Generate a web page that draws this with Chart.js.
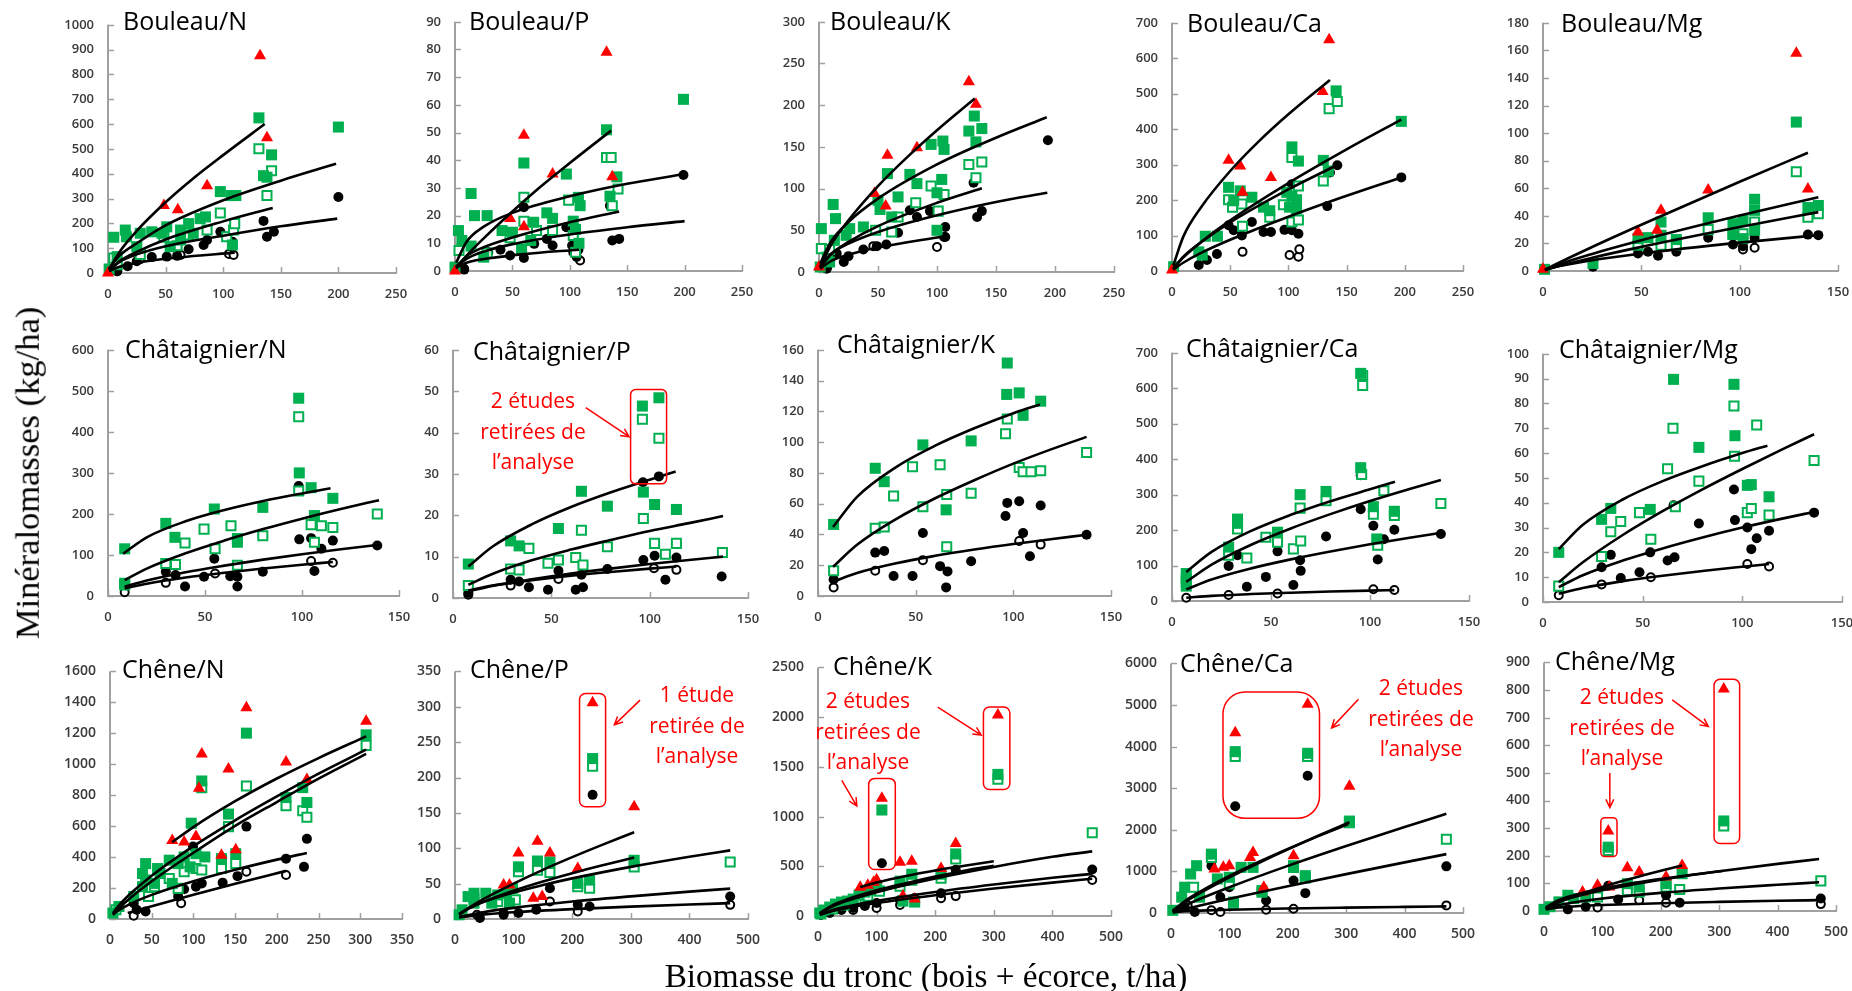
<!DOCTYPE html>
<html><head><meta charset="utf-8">
<script src="https://cdn.jsdelivr.net/npm/chart.js@4.4.0/dist/chart.umd.min.js"></script>
<style>
html,body{margin:0;padding:0;background:#fff;}
#root{position:relative;width:1852px;height:991px;overflow:hidden;background:#fff;}
canvas{position:absolute;}
.title{position:absolute;font-family:'Open Sans',sans-serif;font-size:25px;line-height:25px;color:#000;white-space:nowrap;}
.note{position:absolute;font-family:'Open Sans',sans-serif;font-size:21px;line-height:30.5px;color:#ff0000;text-align:center;white-space:nowrap;transform:translateX(-50%);}
.axt{position:absolute;font-family:'Liberation Serif',serif;white-space:nowrap;color:#000;}
</style></head><body><div id="root"></div>
<script>
// ---------- Bouleau ----------
const bN_red=[[0,0],[48.5,272],[60.6,255],[86,352],[132,875],[138,545]];
const bN_gf=[[1,16],[5,144],[8,66],[15,173],[16,146],[25,106],[28,160],[38,166],[47,160],[51,186],[54,106],[63,173],[63,133],[70,199],[74,160],[80,219],[84.6,226],[97.5,328],[107,312],[108,113],[111,312],[131,625],[135,392],[138,386],[142,476],[200,588]];
const bN_gh=[[5,60],[8,33],[28,75],[48.5,144],[60,110],[70,153],[86,173],[97.5,242],[103,146],[109,173],[110,199],[131,501],[138,312],[142,412]];
const bN_bf=[[8,7],[17,27],[25,47],[38,64],[51,66],[60,69],[70,96],[83,113],[86,133],[97.5,166],[103,146],[108,126],[135,210],[138,146],[144,166],[200,306]];
const bN_bh=[[8,7],[28,56],[63,73],[105,77],[109,73]];
const bN_t1=[[1,15],[10,85],[25,170],[50,285],[75,385],[100,475],[136,600]];
const bN_t2=[[1,18],[10,70],[25,120],[50,192],[100,293],[150,372],[198,440]];
const bN_t3=[[1,10],[10,47],[25,85],[50,135],[100,208],[143,262]];
const bN_t4=[[1,12],[10,45],[25,75],[50,108],[100,150],[150,188],[199,219]];
const bN_t5=[[1,8],[10,25],[30,45],[60,62],[110,82]];

const bP_red=[[0,0],[48,19],[60,16],[60,49],[85,35],[132,79],[137,34]];
const bP_gf=[[0,1.4],[3,14.6],[6,11],[14,28],[14,9],[17,20],[25,5],[28,20],[41,14.6],[50,14],[58,8],[60,39],[66,11],[68.5,17.6],[80,21],[85,19],[97,35],[103,18],[105,15],[107.5,26.6],[108,10],[109,23.6],[132,51],[135,27],[141,34],[199,62]];
const bP_gh=[[3.5,7.4],[28,6.5],[48,12],[60,26.6],[60,18],[71,14.6],[85,14.6],[99,25.6],[103,12.8],[105,6.8],[132,41],[136,41],[137,23.6],[142,29.6]];
const bP_bf=[[8,0.5],[28,6.8],[39.6,7.7],[48,5.6],[60,4.7],[60,23],[69,9.8],[80,11.6],[85,9.2],[97,15.8],[102,9.2],[106,5.1],[107.5,7.7],[135,23.6],[137,11],[143,11.6],[199,34.7]];
const bP_bh=[[8,0.8],[29,6.8],[60,17.6],[103,6.8],[109,3.8]];
const bP_t1=[[1,0.9],[10,5.5],[25,11.8],[50,21.5],[75,30.6],[100,39],[136,50.7]];
const bP_t2=[[1,3],[10,10.5],[25,16],[50,21],[100,27],[150,31.5],[200,35]];
const bP_t3=[[1,1.4],[10,5.3],[25,8.6],[50,12.1],[100,17.6],[143,21.5]];
const bP_t4=[[1,1.6],[10,4.4],[25,7],[50,9.7],[100,13.2],[150,15.8],[200,18]];
const bP_t5=[[1,1.2],[10,3],[30,4.6],[60,6.1],[108,7.7]];

const bK_red=[[0,6],[47,94],[56.5,79],[58,140],[83,149],[127,228],[133,201]];
const bK_gf=[[1,6],[2,52],[9,12],[12,81],[13,38],[14,64],[23,44],[26,52],[37.6,54],[50,86],[51.7,75],[58,118],[61.6,66],[67,90],[77,117],[83,106],[95,153],[100,95],[100,50],[104,111],[105,157],[106,147],[127,169],[131.6,187],[133,156],[138,172]];
const bK_gh=[[2,28],[7,18],[9,27],[48,50],[61.6,48],[67,66],[82,83],[95,103],[101,73],[106,93],[127,129],[133,113],[138,132]];
const bK_bf=[[6.5,4],[15,22],[21,12],[25,19],[37.6,27],[49,31],[57,33],[67,47],[77,74],[83,66],[94,73],[107,54],[107,42],[131,107],[134,66],[138,73],[194,158]];
const bK_bh=[[7,6],[46,31],[100,30],[106,42]];
const bK_t1=[[1,6],[10,32],[25,62],[50,103],[75,138],[100,170],[132,208]];
const bK_t2=[[1,10],[10,36],[25,60],[50,88],[100,129],[150,161],[193,185.5]];
const bK_t3=[[1,5.2],[10,21],[25,36],[50,55],[100,83],[138,100.5]];
const bK_t4=[[1,6.8],[10,21.6],[25,34],[50,48],[100,68],[150,84],[193.5,95]];
const bK_t5=[[1,4],[10,13],[25,20.7],[50,29.3],[105,42.5]];

const bCa_red=[[0,3],[48.6,312],[58.6,296],[60.6,222],[85,264],[129.4,506],[135,652]];
const bCa_gf=[[1.4,12],[23,54],[26,45],[28.6,98],[39,98],[48.6,236],[53,198],[58.6,226],[68.6,208],[78.6,180],[84,170],[98.6,222],[101,180],[103,350],[103,211],[107,201],[107,175],[108.6,310],[130,312],[134.3,282],[141,508],[197,422]];
const bCa_gh=[[48.6,201],[52,180],[60,189],[60.6,126],[84,152],[95.7,187],[103,320],[103,138],[108.6,240],[108.6,144],[130,254],[135,458],[142,478]];
const bCa_bf=[[23,17],[30,31],[38.6,48],[48.6,129],[53,115],[60,100],[68.6,138],[78.6,110],[85,110],[96.6,116],[103,115],[103,245],[108.6,105],[133.4,183],[135.7,278],[142,298],[197,264]];
const bCa_bh=[[60.6,54],[101,45],[108.6,40],[109.4,61]];
const bCa_t1=[[1,15],[10,99],[25,180],[50,282],[75,367],[100,442],[135.7,539]];
const bCa_t2=[[1,6],[10,39],[25,82],[50,143],[100,248],[150,343],[197,427]];
const bCa_t3=[[1,7],[10,41],[25,81],[50,137],[100,230],[142,299]];
const bCa_t4=[[1,4],[10,24],[25,51],[50,88],[100,153],[150,212],[197,264]];

const bMg_red=[[0,1.2],[48.3,28.3],[58,29.5],[60,44],[84,58.7],[128.8,158],[134.7,59.4]];
const bMg_gf=[[0.8,1.2],[25.4,5.5],[48.3,23.5],[53.4,24.2],[60,25.9],[60,35.5],[67.8,22.8],[84,38.6],[96.6,34.3],[96.6,27],[101.7,36.7],[101.7,23.5],[107.6,52],[107.6,44],[107.6,29.5],[128.8,108],[134.7,46],[140,47.5]];
const bMg_gh=[[48.3,18.7],[60,18.7],[67.8,18.7],[84,30],[96.6,26.4],[101.7,27],[107.6,35.5],[128.8,72],[134.7,39],[140,41.5]];
const bMg_bf=[[25.4,3.1],[48.3,12.7],[53.4,13.9],[58.5,11],[67.8,13.9],[84,24.2],[96.6,19.2],[101.7,18],[107.6,24],[134.7,26.4],[140,26]];
const bMg_bh=[[101.7,15.6],[107.6,16.8]];
const bMg_t1=[[1,0.8],[5,3.8],[25,17.4],[50,33.5],[100,64.7],[134.7,85.8]];
const bMg_t2=[[1,0.8],[5,3.2],[25,12.4],[50,22.3],[100,40.2],[140,53.5]];
const bMg_t3=[[1,0.6],[5,2.4],[25,9.6],[50,17.5],[100,31.9],[140,42.7]];
const bMg_t4=[[1,0.8],[5,2.5],[25,7.8],[50,12.7],[100,20.6],[140,26]];

// ---------- Châtaignier ----------
const cN_gf=[[8.6,115],[8.6,31],[29.8,177],[34.5,143],[54.8,212],[66.7,131],[66.7,140],[79.8,216],[98.3,482],[98.6,300],[104.7,264],[106.4,196],[115.9,238]];
const cN_gh=[[8.6,27],[29.8,79],[34.8,77],[39.7,129],[49.5,163],[55.2,115],[63.4,171],[66.7,75],[79.8,147],[98.3,437],[98.3,256],[104.7,174],[106.4,131],[110,171],[115.9,167],[138.8,200]];
const cN_bf=[[8.6,29],[29.8,59],[34.8,51],[39.7,23],[49.5,47],[54.8,91],[63,48],[66.7,47],[66.7,23],[79.8,59],[98.3,268],[98.6,138],[104.7,141],[106.4,61],[110,115],[115.9,135],[138.8,123]];
const cN_bh=[[8.6,9],[29.8,32],[55.2,55],[104.7,85],[115.9,81]];
const cN_t1=[[7.8,103],[20,143],[40,182],[60,209.5],[80,231.5],[100,250],[114.7,262.5]];
const cN_t2=[[8.6,38.7],[20,66.7],[40,104],[60,135],[80,163],[100,188.5],[120,212],[139.7,233.5]];
const cN_t3=[[8.6,22.5],[20,37.8],[40,57.8],[60,74],[80,88.6],[100,101.7],[120,113.8],[139.7,125]];
const cN_t4=[[8.6,18.5],[20,30],[40,45],[60,56.8],[80,67],[100,76],[115.9,83]];

const cP_gf=[[7.8,8.2],[29.3,13.8],[33.6,12.6],[53.6,16.8],[65.3,25.8],[78.5,22.2],[96.3,46.4],[96.8,25.6],[102.5,22.6],[104.7,48.4],[113.6,21.4]];
const cP_gh=[[7.8,3],[29.3,7],[33.6,6.8],[38.6,12],[48.3,8.4],[53.6,9.2],[62.4,9.8],[65.3,16.4],[66.1,8],[78.5,12.4],[96.3,43.2],[96.8,19.2],[102.5,13.2],[104.7,38.6],[108,10.6],[113.6,13.2],[137,11]];
const cP_bf=[[7.8,1.2],[29.3,4.4],[33.6,4],[38.6,2.6],[48.3,2],[53.6,6.6],[62.4,2],[65.3,5.6],[66.1,2.6],[78.5,7],[96.6,28],[96.8,9.2],[102.5,10.2],[104.7,29.4],[108,4.4],[113.6,9.8],[136.6,5.2]];
const cP_bh=[[7.8,0.8],[29.3,3],[53.6,4.6],[102.2,7.2],[113.6,6.8]];
const cP_t1=[[7.8,7.6],[20,12.4],[40,17.8],[60,22],[80,25.5],[100,28.6],[113.2,30.6]];
const cP_t2=[[7.8,3.2],[20,5.8],[40,9.1],[60,11.7],[80,14],[100,16.2],[120,18.1],[137.3,19.8]];
const cP_t3=[[7.8,1.6],[20,2.9],[40,4.5],[60,5.9],[80,7.1],[100,8.2],[120,9.2],[137.3,10]];
const cP_t4=[[7.8,1.8],[20,3],[40,4.3],[60,5.4],[80,6.3],[100,7.1],[113.6,7.6]];

const cK_gf=[[8,46.5],[29.3,83],[33.9,74.3],[53.7,98.2],[65.6,56],[78.4,100.8],[96.6,131],[96.9,151.4],[103,132],[105,117.4],[114,126.6]];
const cK_gh=[[8,16.4],[29.3,44],[33.9,44.8],[38.7,65],[48.4,84],[53.7,58],[62.5,85.3],[65.9,66],[65.9,32],[78.4,66.8],[96,105.5],[96.9,115],[103,83.5],[105,80.7],[109,80.7],[114,81.4],[137.5,93.2]];
const cK_bf=[[8,10.8],[29.3,28.2],[33.9,29.3],[38.7,13],[48.4,13],[53.7,41],[62.5,19.4],[66.3,16],[65.6,5.6],[78.4,22.6],[96,52],[96.9,60.5],[103,61.6],[105,41],[108.5,25.8],[114,58.8],[137.5,39.8]];
const cK_bh=[[8,5.6],[29.3,16.4],[53.7,23.3],[103,35.7],[114,33.4]];
const cK_t1=[[7.7,44.8],[20,64.4],[40,83.8],[60,97.7],[80,109],[100,118.8],[113.6,124.5]];
const cK_t2=[[7.7,19],[20,33.3],[40,50],[60,63.5],[80,75.2],[100,86],[120,95.6],[137.5,103.4]];
const cK_t3=[[7.7,9.3],[20,15],[40,21.3],[60,26.1],[80,30.2],[100,33.8],[120,37],[137.5,39.8]];

const cCa_gf=[[7.2,77.5],[7.2,54],[7.2,42],[28.6,152],[33.1,231],[33.1,219],[53.3,194],[64.7,300],[77.8,309],[95.3,642],[95.3,376],[101.7,266],[103.4,175],[112.3,253]];
const cCa_gh=[[7.2,63],[28.6,129],[33.1,203],[37.8,121],[47.4,180],[53.3,166],[61.3,147],[65,169],[64.7,262],[77.8,283],[96.3,608],[96.3,636],[95.8,357],[101.7,245],[103.9,157],[107,311],[112.3,241],[135.8,275]];
const cCa_bf=[[7.2,45],[28.6,99],[33.1,129],[37.8,40],[47.4,68],[53.3,140],[61.3,45],[64.7,115],[65,85],[77.8,182],[95.3,355],[95.3,259],[101.7,212],[103.9,117],[107,174],[112.3,201],[135.8,189]];
const cCa_bh=[[7.2,9],[28.6,17],[53.3,21],[101.7,33],[112.3,31]];
const cCa_t1=[[7.2,82],[20,138.5],[40,197.8],[60,243],[80,281.6],[100,315],[112.6,336]];
const cCa_t2=[[7.2,54],[20,102.6],[40,158.8],[60,204.7],[80,245],[100,282],[120,316],[135.8,341.6]];
const cCa_t3=[[7.2,32.7],[20,60.6],[40,92],[60,117.4],[80,139.6],[100,160],[120,178.5],[135.8,192.3]];
const cCa_t4=[[7.2,9.3],[20,14.5],[40,19.6],[60,23.4],[80,26.6],[100,29.4],[112.3,30.8]];

const cMg_gf=[[7.9,20],[29.4,33.3],[34,37.7],[53.8,37.3],[65.5,89.7],[78.2,62.3],[95.8,87.7],[96.3,67],[102.5,47],[104.5,47.3],[113.4,42.4]];
const cMg_gh=[[7.9,6.4],[29.4,18.3],[34,28.3],[39,32.4],[48.4,36],[54.1,25.3],[62.5,53.7],[65.2,70],[66.4,38.4],[78.2,48.7],[95.8,79],[96.1,58.7],[102.5,36],[104.5,37.7],[107.2,71.3],[113.4,35],[136,57]];
const cMg_bf=[[7.9,6.4],[29.4,14],[34,19],[39,9.7],[48.4,12],[53.8,20],[62.5,16.7],[66,18],[65.5,39],[78.2,31.6],[95.8,45.3],[96.3,33],[102.5,30],[104.5,21.3],[107.2,25.7],[113.4,28.7],[136,36]];
const cMg_bh=[[7.9,2.7],[29.4,7.1],[54.1,10],[102.5,15.3],[113.4,14.3]];
const cMg_t1=[[7.9,21.3],[20,31.1],[40,41.3],[60,48.7],[80,54.7],[100,60],[112.6,63]];
const cMg_t2=[[7.9,8],[20,16],[40,27],[60,36.6],[80,45.4],[100,53.6],[120,61.5],[136,67.6]];
const cMg_t3=[[7.9,6],[20,10.8],[40,16.7],[60,21.6],[80,26],[100,30],[120,33.6],[136,36.3]];
const cMg_t4=[[7.9,3.3],[20,5.6],[40,8.4],[60,10.6],[80,12.5],[100,14.2],[113.4,15.3]];

// ---------- Chêne ----------
const qN_red=[[74.6,508],[88.9,497],[103,533],[106.6,845],[110,1067],[133.6,412],[142,970],[150.7,448],[163.5,1365],[211,1015],[236,902],[307,1278]];
const qN_gf=[[3.5,38],[10.7,81],[28.4,145],[39,209],[39,294],[42.7,358],[42.7,252],[53.3,230],[57,326],[60,294],[71,380],[74.6,230],[81.7,358],[88.9,401],[96,337],[97.4,619],[103,422],[110,892],[113.7,401],[133.6,390],[142,678],[150.7,422],[163.5,1201],[211,785],[231,849],[236,753],[307,1190]];
const qN_gh=[[7.1,60],[46.2,145],[53.3,209],[71,262],[81.7,198],[88.9,305],[103,326],[110,316],[110,849],[133.6,326],[142,597],[150.7,358],[163.5,860],[211,732],[231,700],[236,657],[307,1122]];
const qN_bf=[[28.4,102],[32,60],[42.7,49],[81.7,145],[88.9,192],[99.5,469],[103,209],[110,230],[135,235],[152.8,277],[163.5,597],[211,390],[232.5,337],[236,518]];
const qN_bh=[[28.4,21],[85.3,102],[163.5,305],[211,284]];
const qN_t1=[[74.6,497],[100,594],[150,761],[200,908],[250,1040],[307,1180]];
const qN_t2=[[3.5,38],[10,83.6],[25,166],[50,280],[100,471],[150,638],[200,792],[250,939],[307,1094]];
const qN_t3=[[3.5,28],[10,65.8],[25,139],[50,244],[100,428],[150,602],[200,756],[250,907],[307,1067]];
const qN_t4=[[3.5,28],[10,55],[25,99.7],[50,156],[100,244],[150,318],[200,383.6],[236,427]];
const qN_t5=[[21.3,38],[50,83],[100,156.6],[150,227.6],[211,311]];

const qP_red=[[83,48],[93,48],[108.3,93.3],[133.6,29.4],[140.7,110],[148.8,31.7],[162,93.3],[209.5,71.4],[234.8,305.6],[305.7,158.7]];
const qP_gf=[[7,6],[12.1,13],[22.3,31.7],[32.4,36.4],[32.4,22.4],[52.6,36.4],[62.8,22.4],[72.9,34],[88,36.4],[93,22.4],[98.2,43.4],[108.3,73.7],[140.7,82],[162,80.7],[209.5,50.4],[229.7,55],[234.8,226.8],[305.7,83]];
const qP_gh=[[32.4,29.4],[72.9,24.7],[103,27],[108.3,66.7],[140.7,69],[162,65.8],[209.5,45.7],[229.7,43.4],[234.8,216],[305.7,73.7],[469.6,80.7]];
const qP_bf=[[12.1,8.4],[42.5,1.4],[83,6],[108.3,8.4],[138.7,13],[162,43.4],[209.5,20],[229.7,17.7],[234.8,175.5],[469.6,31.7]];
const qP_bh=[[37.4,6],[83,8.4],[162,24.7],[209.5,10.7],[469.6,20]];
const qP_t1=[[7,6],[25,16.6],[50,28.8],[100,50],[150,69.5],[200,87.4],[250,104.4],[305.7,122.7]];
const qP_t2=[[7,6.3],[25,15.3],[50,24.7],[100,40],[150,53],[200,64.7],[250,75.5],[305.7,86.8]];
const qP_t3=[[7,7.3],[25,16],[50,24.6],[100,37.5],[150,48],[200,57.4],[300,73.7],[400,88],[469.6,97]];
const qP_t4=[[7,2.8],[50,10],[100,15.7],[200,24.7],[300,32],[400,38.7],[469.6,43]];
const qP_t5=[[7,2.2],[50,6.5],[100,9.6],[200,14],[300,17.5],[400,20.5],[469.6,22.4]];

const qK_red=[[72,290],[85,310],[95,340],[100,365],[109,1185],[140,540],[145,200],[160,550],[165,170],[210,478],[235,730],[307,2022]];
const qK_gf=[[3,30],[10,60],[20,90],[30,120],[40,140],[50,150],[60,170],[70,210],[80,240],[90,260],[100,300],[109,1066],[140,350],[145,150],[160,420],[165,140],[210,420],[235,624],[307,1424]];
const qK_gh=[[5,20],[25,70],[45,110],[65,150],[85,200],[105,250],[140,300],[160,360],[210,380],[235,574],[307,1375],[468,837]];
const qK_bf=[[5,10],[20,40],[40,60],[60,80],[80,100],[100,130],[109,530],[140,160],[165,180],[210,229],[235,464],[468,468]];
const qK_bh=[[20,30],[60,60],[100,80],[140,110],[210,179],[235,200],[468,362]];
const qK_t1=[[72,292],[100,337],[150,403],[200,458],[250,505],[300,550]];
const qK_t2=[[3,30],[25,110],[50,168],[100,258],[150,330],[200,396],[250,456],[300,505]];
const qK_t3=[[3,25],[25,98],[50,154],[100,240],[200,377],[300,493],[400,595],[468,650]];
const qK_t4=[[3,15],[25,61],[50,96],[100,153],[200,242],[300,317],[400,384],[468,424]];
const qK_t5=[[3,12],[25,51],[50,81.6],[100,131],[200,209],[300,276],[400,336],[468,374]];

const qCa_red=[[74.3,1057],[89.6,1097],[99.8,1137],[110,4332],[135.4,1335],[140.5,1455],[158.9,620],[209.8,1375],[234,5016],[305.5,3044]];
const qCa_gf=[[3,64],[18.3,381],[23.4,620],[33.6,938],[43.8,1137],[48.9,381],[69.2,1415],[79.4,819],[99.8,858],[107,262],[110,3879],[120,1097],[140.5,1097],[155.8,540],[209.8,1137],[230,898],[234,3839],[305.5,2210]];
const qCa_gh=[[38.7,620],[69.2,1335],[99.8,700],[107,222],[110,3760],[155.8,500],[209.8,1097],[230,843],[234,3760],[305.5,2170],[471.5,1773]];
const qCa_bf=[[23.4,143],[40.7,24],[69.2,1137],[84.5,382],[99.8,620],[107,262],[110,2568],[162.9,302],[209.8,779],[230,477],[234,3299],[471.5,1121]];
const qCa_bh=[[28.5,183],[69.2,64],[84.5,24],[162.9,80],[209.8,103],[471.5,183]];
const qCa_t1=[[3,46],[25,269],[50,481],[100,858],[150,1203],[200,1531],[250,1845],[305.5,2180]];
const qCa_t2=[[3,56],[25,299],[50,514],[100,890],[150,1225],[200,1540],[250,1836],[303.5,2140]];
const qCa_t3=[[3,30],[25,186],[50,341],[100,620],[200,1133],[300,1610],[400,2068],[471.5,2385]];
const qCa_t4=[[3,14],[25,95],[50,181],[100,342],[200,645],[300,935],[400,1217],[471.5,1415]];
const qCa_t5=[[3,16],[25,41],[50,56],[100,79],[200,108],[300,129],[400,147],[471.5,159]];

const qMg_red=[[66,69],[91.7,93],[110,290],[112,87],[142.7,157],[163,141],[209,123],[236.5,165],[307.8,804]];
const qMg_gf=[[0,6],[10.2,15.5],[25.5,33],[40.8,57],[51,45],[71.4,51],[110,231],[142.7,99],[163,87],[209,99],[236.5,135],[307.8,326]];
const qMg_gh=[[91.7,51],[110,219],[142.7,73],[163,69],[209,87],[232.4,78],[307.8,308],[474,109]];
const qMg_bf=[[40.8,6],[71.4,15.5],[110,91],[127,42],[163,69],[209,57],[232.4,30],[474,45]];
const qMg_bh=[[91.7,13],[163,39],[209,30],[474,25]];
const qMg_t1=[[3,6.4],[25,31],[50,51.6],[100,87],[150,117.5],[200,145.7],[236.5,165]];
const qMg_t2=[[3,13],[25,39.5],[50,56.5],[100,81],[150,100],[200,116],[250,130.6],[305.8,145]];
const qMg_t3=[[3,9.4],[25,33],[50,49.8],[100,75],[200,113],[300,143.8],[400,170.7],[471,188]];
const qMg_t4=[[3,6.8],[25,21.3],[50,31],[100,45],[200,65.5],[300,81.5],[400,95],[471,104]];
const qMg_t5=[[3,5.5],[25,12.6],[50,16.4],[100,21.5],[200,28.2],[300,33],[400,37],[471,39.4]];

// ---------- panel layout ----------
const panels=[
 {t:'Bouleau/N',L:108,R:396,T:23,B:273,xm:250,xs:50,ym:1000,ys:100,tx:123,ty:30,fs:13,red:bN_red,gf:bN_gf,gh:bN_gh,bf:bN_bf,bh:bN_bh,lines:[bN_t1,bN_t2,bN_t3,bN_t4,bN_t5]},
 {t:'Bouleau/P',L:455,R:742,T:20,B:271,xm:250,xs:50,ym:90,ys:10,tx:469,ty:30,fs:13,red:bP_red,gf:bP_gf,gh:bP_gh,bf:bP_bf,bh:bP_bh,lines:[bP_t1,bP_t2,bP_t3,bP_t4,bP_t5]},
 {t:'Bouleau/K',L:819,R:1114,T:20,B:272,xm:250,xs:50,ym:300,ys:50,tx:830,ty:30,fs:13,red:bK_red,gf:bK_gf,gh:bK_gh,bf:bK_bf,bh:bK_bh,lines:[bK_t1,bK_t2,bK_t3,bK_t4,bK_t5]},
 {t:'Bouleau/Ca',L:1172,R:1463,T:21,B:271,xm:250,xs:50,ym:700,ys:100,tx:1187,ty:32,fs:13,red:bCa_red,gf:bCa_gf,gh:bCa_gh,bf:bCa_bf,bh:bCa_bh,lines:[bCa_t1,bCa_t2,bCa_t3,bCa_t4]},
 {t:'Bouleau/Mg',L:1543,R:1838,T:21,B:271,xm:150,xs:50,ym:180,ys:20,tx:1561,ty:32,fs:13,red:bMg_red,gf:bMg_gf,gh:bMg_gh,bf:bMg_bf,bh:bMg_bh,lines:[bMg_t1,bMg_t2,bMg_t3,bMg_t4]},
 {t:'Châtaignier/N',L:108,R:399,T:348,B:596,xm:150,xs:50,ym:600,ys:100,tx:125,ty:358,fs:13,red:[],gf:cN_gf,gh:cN_gh,bf:cN_bf,bh:cN_bh,lines:[cN_t1,cN_t2,cN_t3,cN_t4]},
 {t:'Châtaignier/P',L:453,R:748,T:348,B:598,xm:150,xs:50,ym:60,ys:10,tx:473,ty:360,fs:13,red:[],gf:cP_gf,gh:cP_gh,bf:cP_bf,bh:cP_bh,lines:[cP_t1,cP_t2,cP_t3,cP_t4],
   rects:[[90.3,50.4,108.6,27.6,5]],arrows:[[67.5,46,89.5,39]],note:{x:533,y:385,txt:'2 études<br>retirées de<br>l’analyse'}},
 {t:'Châtaignier/K',L:818,R:1111,T:348,B:596,xm:150,xs:50,ym:160,ys:20,tx:837,ty:353,fs:13,red:[],gf:cK_gf,gh:cK_gh,bf:cK_bf,bh:cK_bh,lines:[cK_t1,cK_t2,cK_t3]},
 {t:'Châtaignier/Ca',L:1172,R:1469,T:351,B:601,xm:150,xs:50,ym:700,ys:100,tx:1186,ty:357,fs:13,red:[],gf:cCa_gf,gh:cCa_gh,bf:cCa_bf,bh:cCa_bh,lines:[cCa_t1,cCa_t2,cCa_t3,cCa_t4]},
 {t:'Châtaignier/Mg',L:1543,R:1842,T:352,B:602,xm:150,xs:50,ym:100,ys:10,tx:1559,ty:358,fs:13,red:[],gf:cMg_gf,gh:cMg_gh,bf:cMg_bf,bh:cMg_bh,lines:[cMg_t1,cMg_t2,cMg_t3,cMg_t4]},
 {t:'Chêne/N',L:110,R:402,T:669,B:919,xm:350,xs:50,ym:1600,ys:200,tx:122,ty:678,fs:14,red:qN_red,gf:qN_gf,gh:qN_gh,bf:qN_bf,bh:qN_bh,lines:[qN_t1,qN_t2,qN_t3,qN_t4,qN_t5]},
 {t:'Chêne/P',L:455,R:748,T:669,B:919,xm:500,xs:100,ym:350,ys:50,tx:470,ty:678,fs:14,red:qP_red,gf:qP_gf,gh:qP_gh,bf:qP_bf,bh:qP_bh,lines:[qP_t1,qP_t2,qP_t3,qP_t4,qP_t5],
   rects:[[212.5,318.7,257,158.7,6]],arrows:[[315.8,309.4,272,274.4]],note:{x:697,y:679,txt:'1 étude<br>retirée de<br>l’analyse'}},
 {t:'Chêne/K',L:818,R:1111,T:665,B:916,xm:500,xs:100,ym:2500,ys:500,tx:833,ty:675,fs:14,red:qK_red,gf:qK_gf,gh:qK_gh,bf:qK_bf,bh:qK_bh,lines:[qK_t1,qK_t2,qK_t3,qK_t4,qK_t5],
   rects:[[86.5,1384,131.9,468,6],[282.3,2101,327.4,1272,6]],arrows:[[40.6,1364,66.2,1105],[204.4,2101,278.5,1819]],note:{x:868,y:685,txt:'2 études<br>retirées de<br>l’analyse'}},
 {t:'Chêne/Ca',L:1171,R:1463,T:661,B:913,xm:500,xs:100,ym:6000,ys:1000,tx:1180,ty:672,fs:14,red:qCa_red,gf:qCa_gf,gh:qCa_gh,bf:qCa_bf,bh:qCa_bh,lines:[qCa_t1,qCa_t2,qCa_t3,qCa_t4,qCa_t5],
   rects:[[89,5310,254.3,2276,22]],arrows:[[321,5140,275,4450]],note:{x:1421,y:672,txt:'2 études<br>retirées de<br>l’analyse'}},
 {t:'Chêne/Mg',L:1544,R:1836,T:660,B:911,xm:500,xs:100,ym:900,ys:100,tx:1555,ty:670,fs:14,red:qMg_red,gf:qMg_gf,gh:qMg_gh,bf:qMg_bf,bh:qMg_bh,lines:[qMg_t1,qMg_t2,qMg_t3,qMg_t4,qMg_t5],
   rects:[[97.3,338,125,197,4],[291.2,839,335,244,6]],arrows:[[219.6,764.5,281.4,667.7],[112.7,500,112.7,374.7]],note:{x:1622,y:681,txt:'2 études<br>retirées de<br>l’analyse'}}
];

const root=document.getElementById('root');
const GREEN='#00b050', RED='#ff0000', AXIS='#a0a0a0';
const toXY=a=>a.map(p=>({x:p[0],y:p[1]}));

function axisPlugin(){return {id:'axes',beforeDatasetsDraw(ch){
  const c=ch.ctx,a=ch.chartArea,xs=ch.scales.x,ys=ch.scales.y;
  c.save();c.strokeStyle=AXIS;c.lineWidth=2;c.lineCap='butt';
  c.beginPath();c.moveTo(a.left,a.top);c.lineTo(a.left,a.bottom);c.lineTo(a.right+1,a.bottom);c.stroke();
  c.lineWidth=1.5;c.beginPath();
  xs.ticks.forEach(t=>{const px=Math.round(xs.getPixelForValue(t.value))+0.5;c.moveTo(px,a.bottom);c.lineTo(px,a.bottom-6);});
  ys.ticks.forEach(t=>{const py=Math.round(ys.getPixelForValue(t.value))+0.5;c.moveTo(a.left,py);c.lineTo(a.left+6,py);});
  c.stroke();c.restore();}};}

function annPlugin(p){return {id:'ann',afterDatasetsDraw(ch){
  if(!p.rects&&!p.arrows)return;
  const c=ch.ctx,xs=ch.scales.x,ys=ch.scales.y;
  c.save();c.strokeStyle=RED;c.lineWidth=1.5;
  (p.rects||[]).forEach(r=>{
    const x1=xs.getPixelForValue(r[0]),y1=ys.getPixelForValue(r[1]),x2=xs.getPixelForValue(r[2]),y2=ys.getPixelForValue(r[3]);
    c.beginPath();c.roundRect(Math.min(x1,x2),Math.min(y1,y2),Math.abs(x2-x1),Math.abs(y2-y1),r[4]);c.stroke();});
  (p.arrows||[]).forEach(r=>{
    const x1=xs.getPixelForValue(r[0]),y1=ys.getPixelForValue(r[1]),x2=xs.getPixelForValue(r[2]),y2=ys.getPixelForValue(r[3]);
    const ang=Math.atan2(y2-y1,x2-x1),h=9;
    c.beginPath();c.moveTo(x1,y1);c.lineTo(x2,y2);
    c.moveTo(x2-h*Math.cos(ang-0.45),y2-h*Math.sin(ang-0.45));c.lineTo(x2,y2);c.lineTo(x2-h*Math.cos(ang+0.45),y2-h*Math.sin(ang+0.45));
    c.stroke();});
  c.restore();}};}

panels.forEach(p=>{
  const ML=70,MT=20,MR=34,MB=40;
  const W=p.R-p.L+ML+MR,H=p.B-p.T+MT+MB;
  const cv=document.createElement('canvas');
  cv.width=W;cv.height=H;cv.style.width=W+'px';cv.style.height=H+'px';
  cv.style.left=(p.L-ML)+'px';cv.style.top=(p.T-MT)+'px';
  root.appendChild(cv);
  const ds=[];
  p.lines.forEach(l=>ds.push({data:toXY(l),showLine:true,pointRadius:0,borderColor:'#000',borderWidth:2.6,cubicInterpolationMode:'monotone',fill:false,clip:false}));
  ds.push({data:toXY(p.red),pointStyle:'triangle',pointRadius:7,backgroundColor:RED,borderColor:RED,borderWidth:0,clip:false});
  ds.push({data:toXY(p.gf),pointStyle:'rect',pointRadius:7.8,backgroundColor:GREEN,borderColor:GREEN,borderWidth:0,clip:false});
  ds.push({data:toXY(p.gh),pointStyle:'rect',pointRadius:6.4,backgroundColor:'#fff',borderColor:GREEN,borderWidth:2,clip:false});
  ds.push({data:toXY(p.bf),pointStyle:'circle',pointRadius:5,backgroundColor:'#000',borderColor:'#000',borderWidth:0,clip:false});
  ds.push({data:toXY(p.bh),pointStyle:'circle',pointRadius:4,backgroundColor:'#fff',borderColor:'#000',borderWidth:2,clip:false});
  const tickFont={family:'Open Sans',size:p.fs,weight:'600'};
  new Chart(cv,{type:'scatter',data:{datasets:ds},
    options:{responsive:false,animation:false,devicePixelRatio:1,events:[],
      layout:{padding:{left:0,top:MT,right:MR,bottom:0}},
      plugins:{legend:{display:false},tooltip:{enabled:false}},
      scales:{
        x:{type:'linear',min:0,max:p.xm,grid:{display:false,drawTicks:false,tickLength:0},border:{display:false},
           ticks:{stepSize:p.xs,autoSkip:false,maxRotation:0,padding:13,color:'#3a3a3a',font:tickFont,callback:v=>String(v)},
           afterFit(s){s.height=MB;}},
        y:{type:'linear',min:0,max:p.ym,grid:{display:false,drawTicks:false,tickLength:0},border:{display:false},
           ticks:{stepSize:p.ys,autoSkip:false,padding:14,color:'#3a3a3a',font:tickFont,callback:v=>String(v)},
           afterFit(s){s.width=ML;}}
      }},
    plugins:[axisPlugin(),annPlugin(p)]});
  const d=document.createElement('div');d.className='title';d.textContent=p.t;
  d.style.left=p.tx+'px';d.style.top=(p.ty-22)+'px';root.appendChild(d);
  if(p.note){const n=document.createElement('div');n.className='note';n.innerHTML=p.note.txt;
    n.style.left=p.note.x+'px';n.style.top=p.note.y+'px';root.appendChild(n);}
});

const yt=document.createElement('div');yt.className='axt';yt.textContent='Minéralomasses (kg/ha)';
yt.style.fontSize='34.5px';yt.style.lineHeight='34.5px';
yt.style.left='27px';yt.style.top='473px';yt.style.transform='translate(-50%,-50%) rotate(-90deg)';root.appendChild(yt);
const xt=document.createElement('div');xt.className='axt';xt.textContent='Biomasse du tronc (bois + écorce, t/ha)';
xt.style.fontSize='33.3px';xt.style.lineHeight='33.3px';
xt.style.left='926px';xt.style.top='959px';xt.style.transform='translateX(-50%)';root.appendChild(xt);
</script></body></html>
